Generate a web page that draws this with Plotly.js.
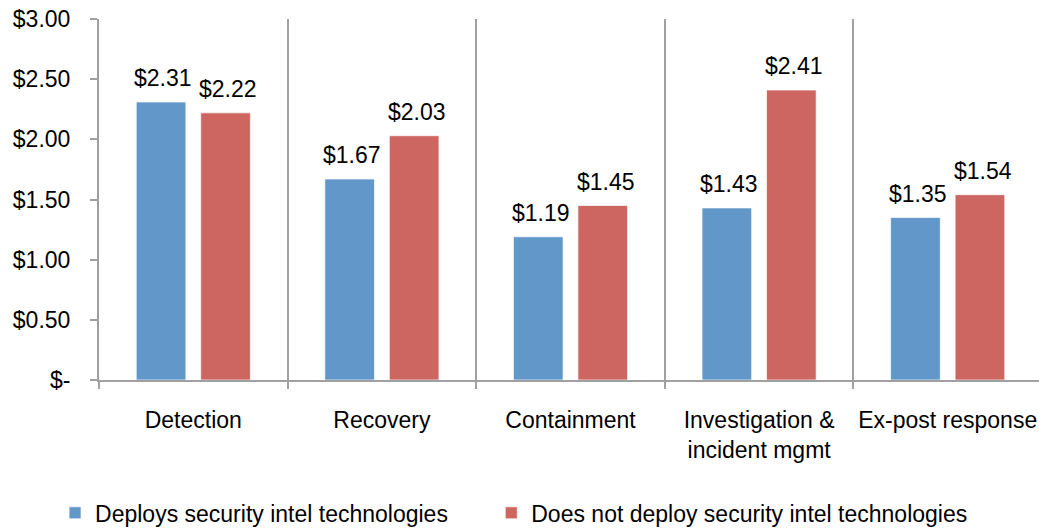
<!DOCTYPE html>
<html>
<head>
<meta charset="utf-8">
<script src="https://cdn.plot.ly/plotly-3.0.1.min.js"></script>
<style>
html,body{margin:0;padding:0;overflow:hidden;background:#fff;}
#chart{width:1045px;height:529px;}
</style>
</head>
<body>
<div id="chart"></div>
<script>
var categories = ["Detection", "Recovery", "Containment", "Investigation &<br>incident mgmt", "Ex-post response"];
var deploys = [2.31, 1.67, 1.19, 1.43, 1.35];
var notDeploy = [2.22, 2.03, 1.45, 2.41, 1.54];
var seriesNames = ["Deploys security intel technologies", "Does not deploy security intel technologies"];
var tickVals = [0, 0.5, 1, 1.5, 2, 2.5, 3];
var tickText = ["$-", "$0.50", "$1.00", "$1.50", "$2.00", "$2.50", "$3.00"];

var blue = "#6197C9", red = "#CD6660", gray = "#a0a0a0";
var FS = 23;

var traces = [
  {type: "bar", name: seriesNames[0] + "\u00a0\u00a0\u00a0\u00a0\u00a0\u00a0", x: categories, y: deploys,
   marker: {color: blue, line: {color: "rgba(255,255,255,0.7)", width: 1}}},
  {type: "bar", name: seriesNames[1], x: categories, y: notDeploy,
   marker: {color: red, line: {color: "rgba(255,255,255,0.7)", width: 1}}}
];

var fmt = function(v){ return "$" + v.toFixed(2); };
var annotations = [];
categories.forEach(function(c, i){
  annotations.push({x: c, y: deploys[i], xref: "x", yref: "y", text: fmt(deploys[i]),
    showarrow: false, xshift: -30, yshift: 9, yanchor: "bottom",
    font: {size: FS, color: "#000"}});
  annotations.push({x: c, y: notDeploy[i], xref: "x", yref: "y", text: fmt(notDeploy[i]),
    showarrow: false, xshift: 35, yshift: 9, yanchor: "bottom",
    font: {size: FS, color: "#000"}});
});

var layout = {
  width: 1045, height: 529,
  margin: {l: 99, r: 3, t: 19, b: 149, autoexpand: false},
  paper_bgcolor: "#fff", plot_bgcolor: "#fff",
  font: {family: "Liberation Sans, Arial, sans-serif", size: FS, color: "#000"},
  barmode: "group", bargap: 0.316, bargroupgap: 0.23,
  showlegend: true,
  legend: {orientation: "h", x: -0.0466, xanchor: "left", y: -0.368, yanchor: "middle",
    font: {size: FS}, itemwidth: 30, traceorder: "normal"},
  xaxis: {
    showline: true, linecolor: gray, linewidth: 2, tickangle: 0,
    ticks: "outside", tickson: "boundaries", ticklen: 7, tickcolor: gray, tickwidth: 2,
    showgrid: true, gridcolor: gray, gridwidth: 2, ticklabelstandoff: 18,
    tickfont: {size: FS}, automargin: false
  },
  yaxis: {
    range: [0, 3], tickvals: tickVals, ticktext: tickText,
    showline: true, linecolor: gray, linewidth: 2,
    ticks: "outside", ticklen: 7, tickcolor: gray, tickwidth: 2,
    showgrid: false, zeroline: false, ticklabelstandoff: 15,
    tickfont: {size: FS}, automargin: false
  },
  annotations: annotations
};

Plotly.newPlot("chart", traces, layout, {displayModeBar: false, staticPlot: true});
</script>
</body>
</html>
